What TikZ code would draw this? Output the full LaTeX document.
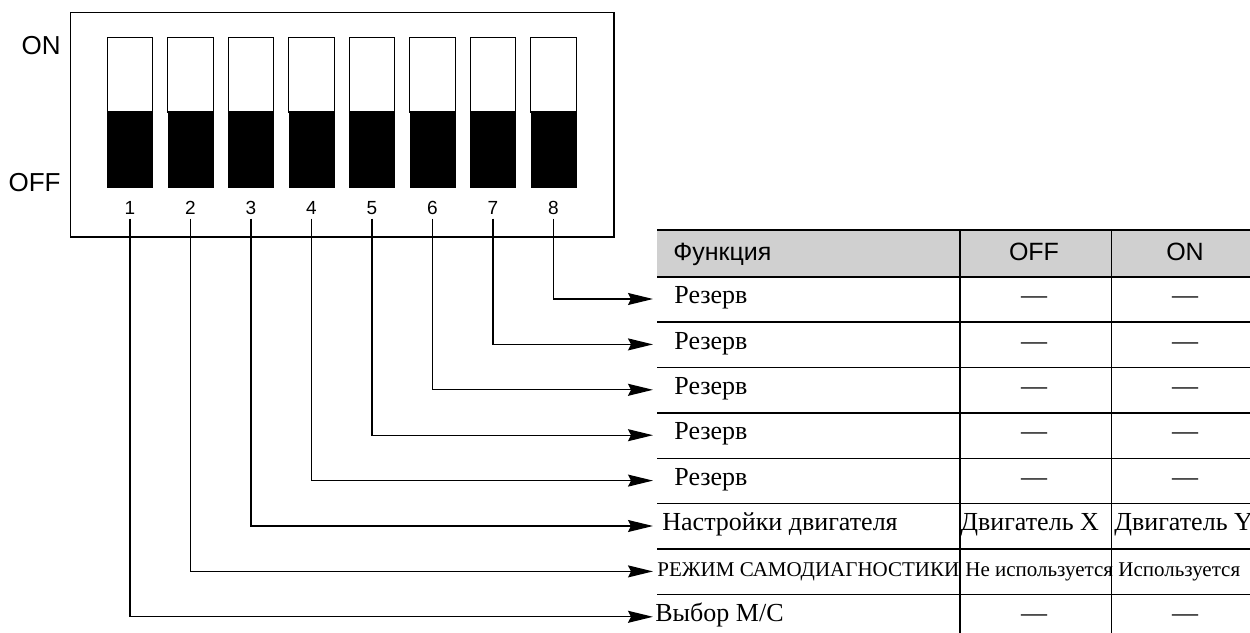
\documentclass[tikz,border=0pt]{standalone}
\usepackage{fontspec}
\setmainfont{Liberation Serif}
\setsansfont{Liberation Sans}
\usetikzlibrary{arrows.meta,positioning}
\definecolor{headgray}{RGB}{208,208,208}

\begin{document}
\begin{tikzpicture}[
    x=0.5pt, y=-0.5pt,
    lbl/.style={font=\sffamily\fontsize{13}{15}\selectfont,inner sep=0pt,text height=0.72em,text depth=0pt},
    num/.style={font=\sffamily\fontsize{9.5}{11}\selectfont,inner xsep=0pt,inner ysep=2pt,text height=0.72em,text depth=0pt},
    hd/.style={font=\sffamily\fontsize{12.5}{15}\selectfont,inner sep=0pt,text height=0.72em,text depth=0pt},
    cell/.style={font=\fontsize{13}{15}\selectfont,inner ysep=0pt,text height=0.66em,text depth=0.2em},
    smallcell/.style={cell,font=\fontsize{10.5}{12}\selectfont},
    rule/.style={line width=0.65pt},
    conn/.style={line width=0.65pt,-{Stealth[length=12.5pt,width=6pt,inset=1.5pt]}}
]
\useasboundingbox (0,0) rectangle (1250,633);

% DIP switch block
\draw[rule] (70.7,12.3) rectangle (614,237);
\node[lbl,anchor=east] (on) at (61,47.5) {ON};
\node[lbl,anchor=east] (off) at (61,184) {OFF};
\foreach \i in {1,...,8} {
  \pgfmathsetmacro{\sx}{130+60.5*(\i-1)}
  \draw[rule] (\sx-22.7,37.3) rectangle (\sx+22.7,112);
  \fill (\sx-23,112) rectangle (\sx+23,188);
  \node[num] (n\i) at (\sx,207) {\i};
}

% Table
\fill[headgray] (657,230) rectangle (1250,276.7);
\draw[line width=1.1pt] (657,230) -- (1250,230);
\draw[line width=1.1pt] (657,276.7) -- (1250,276.7);
\foreach \y in {322.1,367.5,412.9,458.3,503.7,549.1,594.5}
  \draw[rule] (657,\y) -- (1250,\y);
\draw[rule] (960,230) -- (960,633);
\draw[rule] (1111.3,230) -- (1111.3,633);

\node[hd,anchor=west] (hfn) at (673,253.3) {Функция};
\node[hd] (hoff) at (1034,253.3) {OFF};
\node[hd] (hon) at (1185,253.3) {ON};

% Rows
\node[cell,anchor=west,inner xsep=10.5pt] (r1) at (653,299) {Резерв};
\node[cell,anchor=west,inner xsep=10.5pt] (r2) at (653,344.4) {Резерв};
\node[cell,anchor=west,inner xsep=10.5pt] (r3) at (653,389.8) {Резерв};
\node[cell,anchor=west,inner xsep=10.5pt] (r4) at (653,435.2) {Резерв};
\node[cell,anchor=west,inner xsep=10.5pt] (r5) at (653,480.6) {Резерв};
\node[cell,anchor=west,inner xsep=4.5pt] (r6) at (653,526) {Настройки двигателя};
\node[smallcell,anchor=west,inner xsep=2pt] (r7) at (653,571.4) {РЕЖИМ САМОДИАГНОСТИКИ};
\node[cell,anchor=west,inner xsep=1pt] (r8) at (653,616.8) {Выбор М/С};

\node[cell] (a1) at (1034,299) {—};   \node[cell] (b1) at (1185,299) {—};
\node[cell] (a2) at (1034,344.4) {—}; \node[cell] (b2) at (1185,344.4) {—};
\node[cell] (a3) at (1034,389.8) {—}; \node[cell] (b3) at (1185,389.8) {—};
\node[cell] (a4) at (1034,435.2) {—}; \node[cell] (b4) at (1185,435.2) {—};
\node[cell] (a5) at (1034,480.6) {—}; \node[cell] (b5) at (1185,480.6) {—};
\node[cell,anchor=west,inner xsep=0pt] (a6) at (960,526) {Двигатель X};
\node[cell,anchor=west,inner xsep=0pt] (b6) at (1114,526) {Двигатель Y};
\node[smallcell,anchor=west,inner xsep=0pt] (a7) at (965,571.4) {Не используется};
\node[smallcell,anchor=west,inner xsep=0pt] (b7) at (1118,571.4) {Используется};
\node[cell] (a8) at (1034,616.8) {—}; \node[cell] (b8) at (1185,616.8) {—};

% Connectors
\draw[conn] (n8.south) |- (r1.west);
\draw[conn] (n7.south) |- (r2.west);
\draw[conn] (n6.south) |- (r3.west);
\draw[conn] (n5.south) |- (r4.west);
\draw[conn] (n4.south) |- (r5.west);
\draw[conn] (n3.south) |- (r6.west);
\draw[conn] (n2.south) |- (r7.west);
\draw[conn] (n1.south) |- (r8.west);
\end{tikzpicture}
\end{document}
